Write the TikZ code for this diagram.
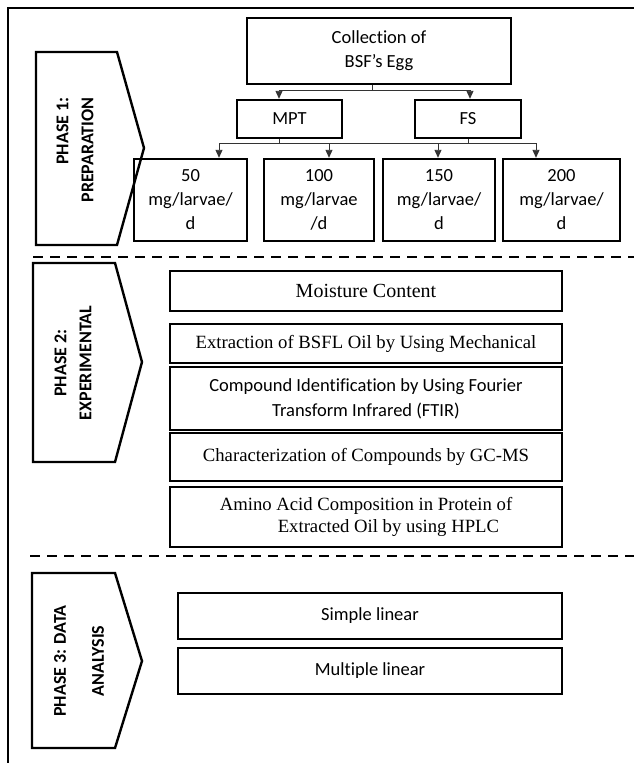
\documentclass[tikz,border=0pt]{standalone}
\usepackage{fontspec}
\setmainfont{Carlito}[Ligatures=CommonOff]
\newfontfamily\tnr{Liberation Serif}
\usetikzlibrary{arrows.meta}
\begin{document}
\begin{tikzpicture}[x=1pt,y=-1pt,
  box/.style={draw, line width=2.4pt, align=center, inner sep=0pt, font=\fontsize{18.5}{24}\selectfont},
  tbox/.style={box, font=\tnr\fontsize{18.7}{22}\selectfont},
  conn/.style={line width=0.9pt, draw=black!80},
  arr/.style={conn, -{Triangle[width=7pt,length=8pt]}},
  chev/.style={draw, line width=2.4pt, line join=miter},
  phase/.style={rotate=90, font=\bfseries\fontsize{18}{25}\selectfont, inner sep=0pt},
  sep/.style={line width=2.2pt, dash pattern=on 10pt off 7pt}
]
\useasboundingbox (0,0) rectangle (634,763);
% frame
\draw[line width=2pt] (634,8) -- (8,8) -- (8,763);
% separators
\draw[sep] (33,257) -- (634,257);
\draw[sep] (30,556) -- (634,556);
% chevrons
\draw[chev] (36,52) -- (117,52) -- (144,148) -- (117,245) -- (36,245) -- cycle;
\node[phase, align=right] (p1) at (75,150) {PHASE 1:\\PREPARATION};
\draw[chev] (33,263) -- (115,263) -- (142,362) -- (115,462) -- (33,462) -- cycle;
\node[phase, align=center] (p2) at (73,363) {PHASE 2:\\EXPERIMENTAL};
\draw[chev] (32,573) -- (115,573) -- (142,661) -- (115,748) -- (32,748) -- cycle;
\node[phase, align=center] (p3) at (79,661) {PHASE 3: DATA\\[13pt]ANALYSIS};
% phase 1 boxes
\node[box, minimum width=264pt, minimum height=66pt] (coll) at (379,51) {Collection of\\BSF’s Egg};
\node[box, minimum width=105pt, minimum height=38pt] (mpt) at (289.5,119) {MPT};
\node[box, minimum width=106pt, minimum height=38pt] (fs) at (468,119) {FS};
\node[box, minimum width=113pt, minimum height=82pt] (d50) at (190.5,200) {50\\mg/larvae/\\d};
\node[box, minimum width=110pt, minimum height=82pt] (d100) at (319,200) {100\\mg/larvae\\/d};
\node[box, minimum width=112pt, minimum height=82pt] (d150) at (439,200) {150\\mg/larvae/\\d};
\node[box, minimum width=117pt, minimum height=82pt] (d200) at (561.5,200) {200\\mg/larvae/\\d};
% connectors
\coordinate (cj) at (372,90);
\coordinate (cl) at (279,90);
\coordinate (cr) at (470,90);
\draw[conn] (coll.south -| cj) -- (cj);
\draw[conn] (cl) -- (cr);
\draw[arr] (cl) -- (cl |- mpt.north);
\draw[arr] (cr) -- (cr |- fs.north);
\coordinate (mj) at (279,143);
\coordinate (fj) at (468,143);
\coordinate (a50) at (219,143);
\coordinate (a100) at (329,143);
\coordinate (a150) at (438,143);
\coordinate (a200) at (536,143);
\draw[conn] (mpt.south -| mj) -- (mj);
\draw[conn] (fs.south -| fj) -- (fj);
\draw[conn] (a50) -- (a200);
\draw[arr] (a50) -- (a50 |- d50.north);
\draw[arr] (a100) -- (a100 |- d100.north);
\draw[arr] (a150) -- (a150 |- d150.north);
\draw[arr] (a200) -- (a200 |- d200.north);
% phase 2 boxes
\node[tbox, font=\tnr\fontsize{20}{24}\selectfont, minimum width=392pt, minimum height=40pt] (mc) at (366,291) {Moisture Content};
\node[tbox, minimum width=392pt, minimum height=39pt] (ext) at (366,343.5) {Extraction of BSFL Oil by Using Mechanical};
\node[box, font=\fontsize{18.5}{25}\selectfont, minimum width=392pt, minimum height=63pt] (ftir) at (366,398.5) {Compound Identification by Using Fourier\\Transform Infrared (FTIR)};
\node[tbox, minimum width=392pt, minimum height=48pt] (gc) at (366,457) {\raisebox{5pt}{Characterization of Compounds by GC-MS}};
\node[tbox, align=left, minimum width=392pt, minimum height=60pt] (aa) at (366,517) {Amino Acid Composition in Protein of\\\hspace*{58pt}Extracted Oil by using HPLC};
% phase 3 boxes
\node[box, minimum width=384pt, minimum height=46pt] (sl) at (370,616) {Simple linear};
\node[box, minimum width=384pt, minimum height=46pt] (ml) at (370,671) {Multiple linear};
\end{tikzpicture}
\end{document}
